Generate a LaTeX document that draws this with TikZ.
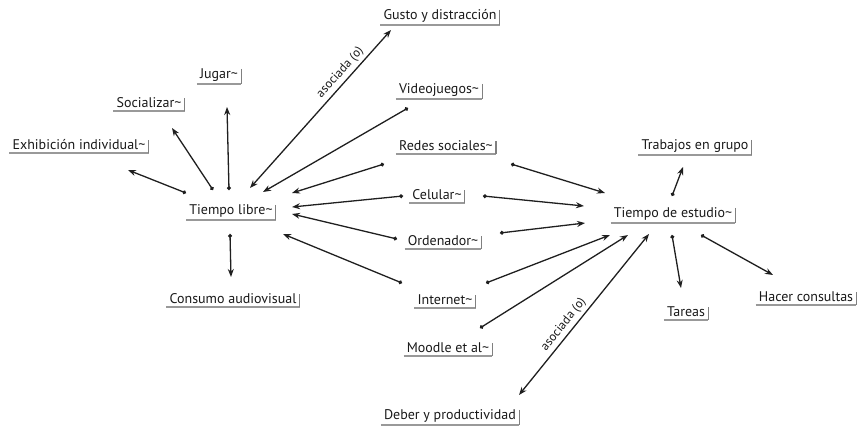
\documentclass[tikz,border=0pt]{standalone}
\usepackage{fontspec}
\setmainfont{PT Sans}
\usetikzlibrary{arrows.meta}
\tikzset{
  lbl/.style={inner xsep=3pt, inner ysep=2.5pt, font=\fontsize{14}{16}\selectfont, text=black!90},
  conn/.style={line width=1.3pt, black!88, {Circle[length=3.8pt]}-{Stealth[length=8pt,width=6pt]}},
  assoc/.style={line width=1.3pt, black!88, {Stealth[length=8pt,width=6pt]}-{Stealth[length=8pt,width=6pt]}},
  asl/.style={font=\fontsize{12.5}{14}\selectfont, text=black!90, sloped, above, inner sep=3pt},
  shb/.style={line width=1.8pt, black!40},
  shr/.style={line width=1.1pt, black!50}
}
\begin{document}
\begin{tikzpicture}[x=1pt,y=-1pt]
\useasboundingbox (0,0) rectangle (861,430);
% nodes
\node[lbl] (gusto) at (440,16) {Gusto y distracción};
\node[lbl] (jugar) at (219,75) {Jugar\textasciitilde};
\node[lbl] (social) at (149,103) {Socializar\textasciitilde};
\node[lbl] (exhib) at (79,145) {Exhibición individual\textasciitilde};
\node[lbl] (video) at (439,90) {Videojuegos\textasciitilde};
\node[lbl] (redes) at (446,146) {Redes sociales\textasciitilde};
\node[lbl] (cel) at (437,195) {Celular\textasciitilde};
\node[lbl] (orden) at (443,241) {Ordenador\textasciitilde};
\node[lbl] (inter) at (445,300) {Internet\textasciitilde};
\node[lbl] (moodle) at (448,348) {Moodle et al\textasciitilde};
\node[lbl] (deber) at (450,416) {Deber y productividad};
\node[lbl] (tl) at (231,211) {Tiempo libre\textasciitilde};
\node[lbl] (consumo) at (233,299) {Consumo audiovisual};
\node[lbl] (te) at (673,214) {Tiempo de estudio\textasciitilde};
\node[lbl] (trab) at (695,146) {Trabajos en grupo};
\node[lbl] (tareas) at (686,312) {Tareas};
\node[lbl] (hacer) at (806,297) {Hacer consultas};
% shadows
\foreach \n in {gusto,jugar,social,exhib,video,redes,cel,orden,inter,moodle,deber,tl,consumo,te,trab,tareas,hacer}{
  \draw[shb] (\n.south west) -- (\n.south east);
  \draw[shr] ([yshift=-3pt]\n.north east) -- (\n.south east);
}
% connector ends
\coordinate (tl1) at (186,193); \coordinate (ex1) at (128,170);
\coordinate (tl2) at (213,190); \coordinate (so1) at (172,128);
\coordinate (tl3) at (229,190); \coordinate (ju1) at (227,107);
\coordinate (tl4) at (250,188); \coordinate (gu1) at (391,30);
\coordinate (vi1) at (408,108); \coordinate (tl5) at (263,192);
\coordinate (re1) at (384,164); \coordinate (tl6) at (292,193);
\coordinate (ce1) at (403,196); \coordinate (tl7) at (292,207);
\coordinate (or1) at (397,239); \coordinate (tl8) at (292,214);
\coordinate (in1) at (402,283); \coordinate (tl9) at (283,234);
\coordinate (tl10) at (230,234); \coordinate (co1) at (231,277);
\coordinate (re2) at (511,164); \coordinate (te1) at (605,193);
\coordinate (ce2) at (483,196); \coordinate (te2) at (584,206);
\coordinate (or2) at (500,233); \coordinate (te3) at (585,223);
\coordinate (in2) at (486,283); \coordinate (te4) at (610,235);
\coordinate (mo1) at (480,328); \coordinate (te5) at (628,235);
\coordinate (de1) at (519,395); \coordinate (te6) at (649,234);
\coordinate (te7) at (672,196); \coordinate (tr1) at (683,167);
\coordinate (te8) at (672,235); \coordinate (ta1) at (681,288);
\coordinate (te9) at (701,235); \coordinate (ha1) at (773,275);
% connectors
\draw[conn] (tl1) -- (ex1);
\draw[conn] (tl2) -- (so1);
\draw[conn] (tl3) -- (ju1);
\draw[assoc] (tl4) -- node[asl, pos=0.69] {asociada (o)} (gu1);
\draw[conn] (vi1) -- (tl5);
\draw[conn] (re1) -- (tl6);
\draw[conn] (ce1) -- (tl7);
\draw[conn] (or1) -- (tl8);
\draw[conn] (in1) -- (tl9);
\draw[conn] (tl10) -- (co1);
\draw[conn] (re2) -- (te1);
\draw[conn] (ce2) -- (te2);
\draw[conn] (or2) -- (te3);
\draw[conn] (in2) -- (te4);
\draw[conn] (mo1) -- (te5);
\draw[assoc] (de1) -- node[asl, pos=0.40] {asociada (o)} (te6);
\draw[conn] (te7) -- (tr1);
\draw[conn] (te8) -- (ta1);
\draw[conn] (te9) -- (ha1);
\end{tikzpicture}
\end{document}
